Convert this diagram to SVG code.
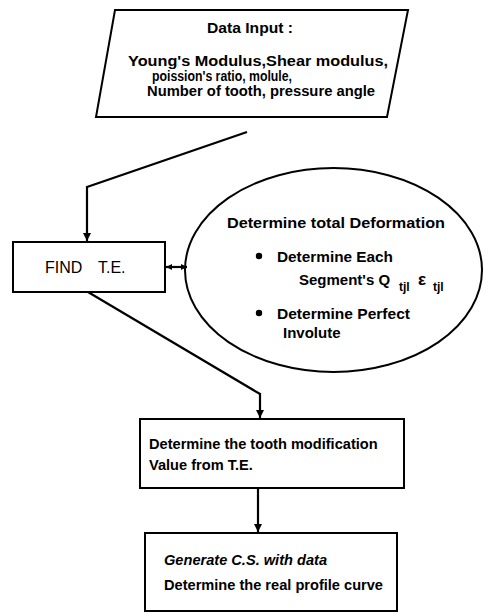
<svg xmlns="http://www.w3.org/2000/svg" width="492" height="616" viewBox="0 0 492 616">
<style>
.shape{fill:#fff;stroke:#000;stroke-width:2}
.conn{fill:none;stroke:#000;stroke-width:2.2}
.t{font-family:"Liberation Sans",Arial,sans-serif;font-weight:bold;fill:#000}
.r{font-family:"Liberation Sans",Arial,sans-serif;font-size:16px;fill:#000}
.p{font-size:14px}
.e{font-size:15px}
.m{font-size:14.6px}
.it{font-style:italic}
.s{font-size:12px}
.g{font-size:17px}
</style>
<defs>
<marker id="ah" viewBox="0 0 10 10" refX="10" refY="5" markerWidth="8" markerHeight="8" markerUnits="userSpaceOnUse" orient="auto">
<path d="M0,0 L10,5 L0,10 z" fill="#000"/>
</marker>
<marker id="ahs" viewBox="0 0 10 10" refX="10" refY="5" markerWidth="6" markerHeight="6" markerUnits="userSpaceOnUse" orient="auto-start-reverse">
<path d="M0,0 L10,5 L0,10 z" fill="#000"/>
</marker>
</defs>
<rect width="492" height="616" fill="#fff"/>
<g id="input">
<polygon class="shape" points="115,10 408,10 387,117 96,117"/>
<text class="t p" x="207" y="33" textLength="86" lengthAdjust="spacingAndGlyphs">Data Input :</text>
<text class="t p" x="128" y="66" textLength="260" lengthAdjust="spacingAndGlyphs">Young's Modulus,Shear modulus,</text>
<text class="t p" x="152" y="81" textLength="140" lengthAdjust="spacingAndGlyphs">poission's ratio, molule,</text>
<text class="t p" x="147" y="96" textLength="228" lengthAdjust="spacingAndGlyphs">Number of tooth, pressure angle</text>
</g>
<g id="find">
<rect class="shape" x="13" y="242" width="152" height="50"/>
<text class="r" x="45" y="273">FIND</text>
<text class="r" x="98" y="273">T.E.</text>
</g>
<g id="deformation">
<ellipse class="shape" cx="333.5" cy="270" rx="148.5" ry="102"/>
<text class="t e" x="227" y="228" textLength="218" lengthAdjust="spacingAndGlyphs">Determine total Deformation</text>
<circle cx="259" cy="256" r="3.2" fill="#000"/>
<text class="t e" x="277" y="262" textLength="116" lengthAdjust="spacingAndGlyphs">Determine Each</text>
<text class="t e" x="299" y="285">Segment's Q<tspan class="s" x="399" y="291">tjl</tspan><tspan class="g" x="418" y="285">ε</tspan><tspan class="s" x="433" y="291">tjl</tspan></text>
<circle cx="259" cy="313" r="3.2" fill="#000"/>
<text class="t e" x="277" y="319" textLength="133" lengthAdjust="spacingAndGlyphs">Determine Perfect</text>
<text class="t e" x="283" y="338">Involute</text>
</g>
<g id="modification">
<rect class="shape" x="140" y="419" width="264" height="69"/>
<text class="t m" x="149" y="449">Determine the tooth modification</text>
<text class="t m" x="149" y="470">Value from T.E.</text>
</g>
<g id="generate">
<rect class="shape" x="145" y="533" width="252" height="78"/>
<text class="t m it" x="164" y="565">Generate C.S. with data</text>
<text class="t m" x="164" y="590">Determine the real profile curve</text>
</g>
<g id="connectors">
<polyline class="conn" points="247,132 87,187 87,241" marker-end="url(#ah)"/>
<line class="conn" x1="166" y1="267" x2="187" y2="267" marker-start="url(#ahs)" marker-end="url(#ahs)"/>
<polyline class="conn" points="88,292 260,394 260,418" marker-end="url(#ah)"/>
<line class="conn" x1="258" y1="488" x2="258" y2="532" marker-end="url(#ah)"/>
</g>
</svg>
